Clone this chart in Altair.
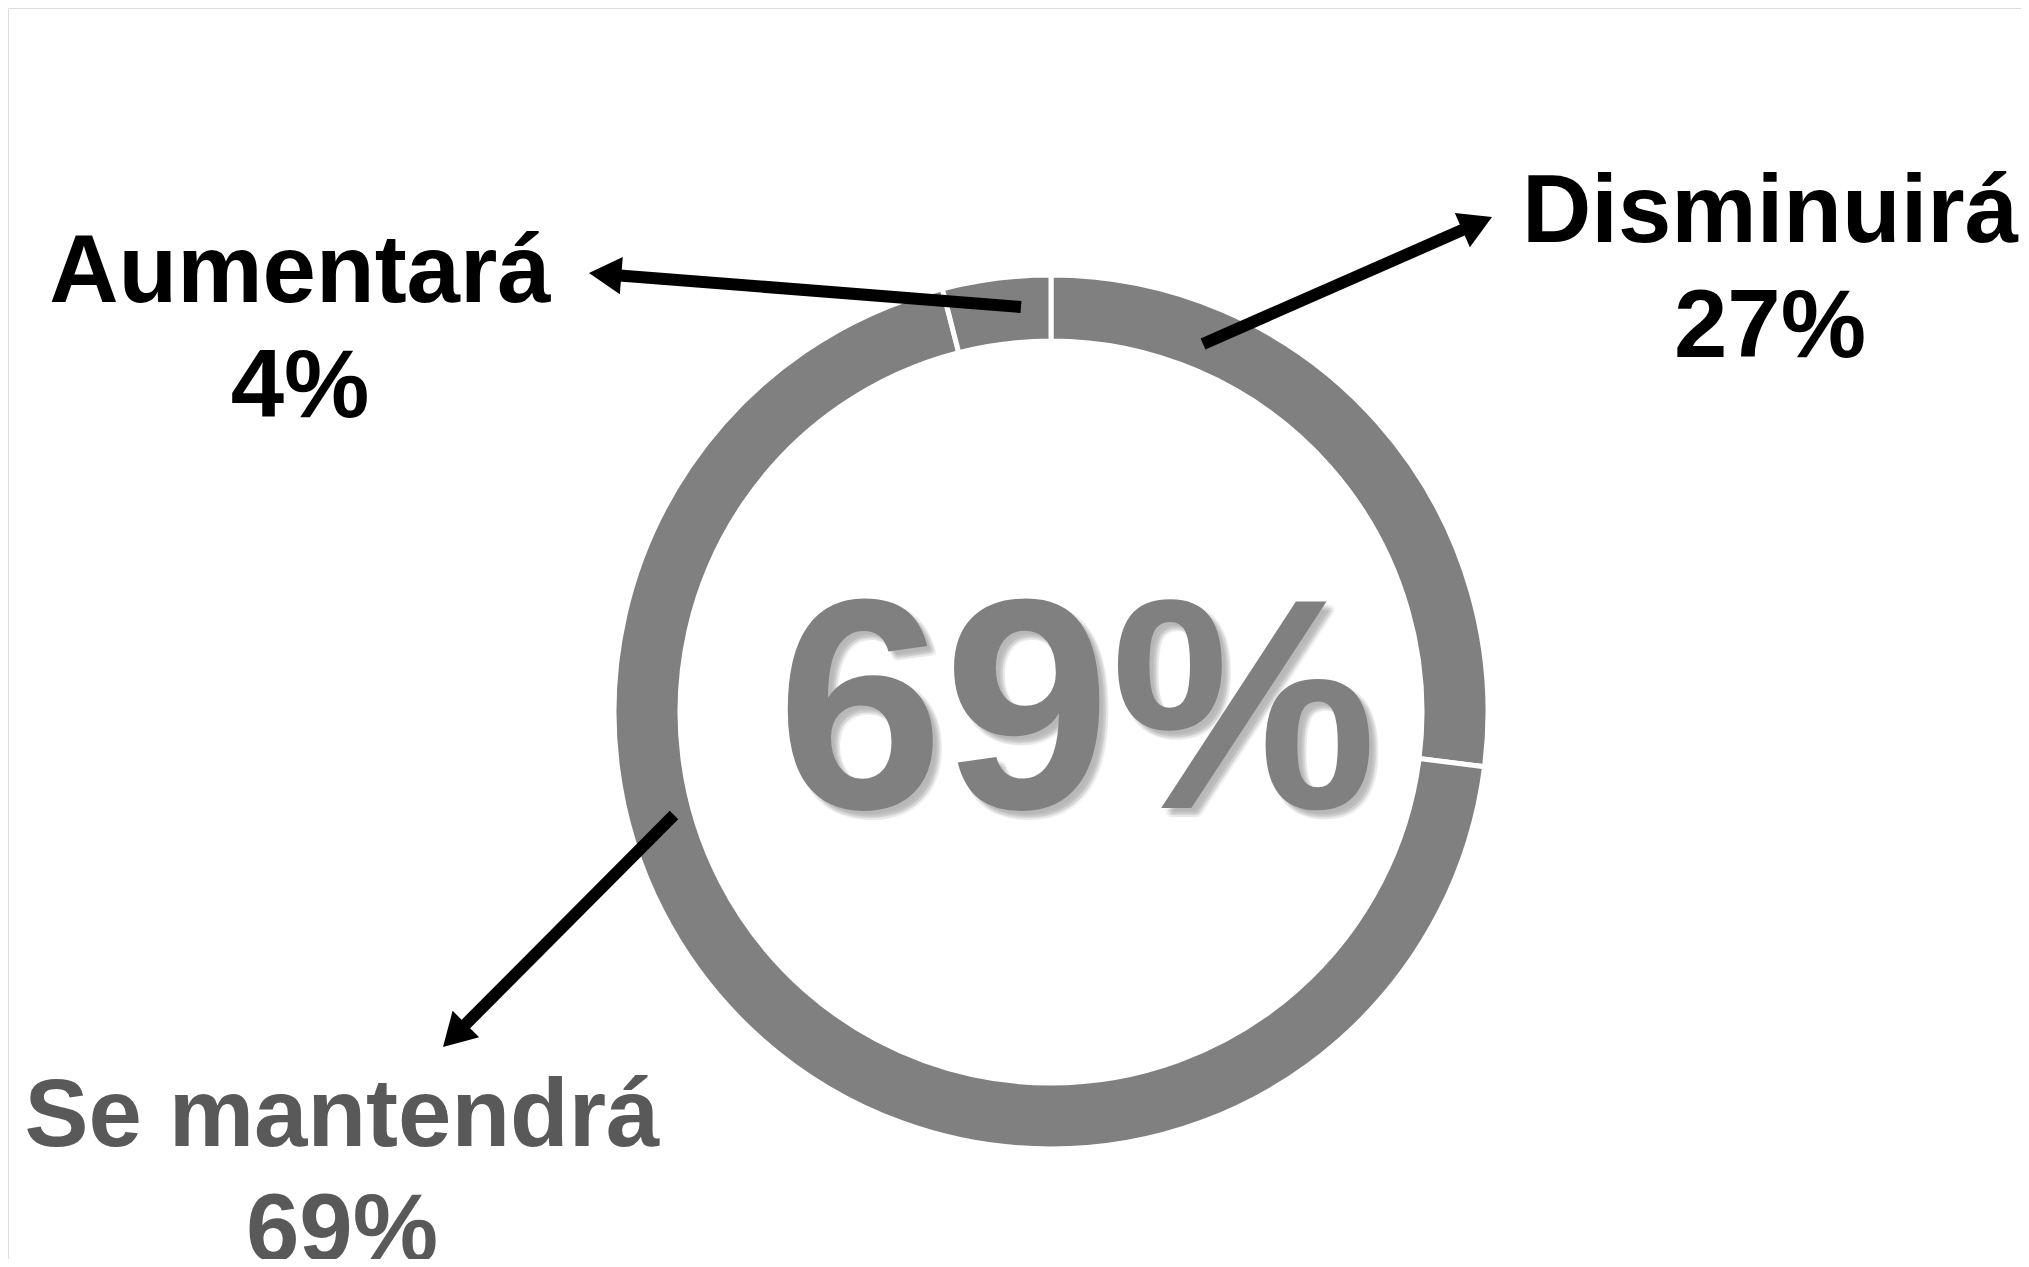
import math
import altair as alt
import pandas as pd

# ---- data ----
categories = ["Disminuirá", "Se mantendrá", "Aumentará"]
values = [27, 69, 4]
label_colors = ["#000000", "#595959", "#000000"]
center_label = "69%"

# ---- annotation geometry (full-page pixel coordinates) ----
W, H = 2013, 1251
ring_center = (1051, 712)
# label anchor: (x center, baseline of first line)
label_anchor = {"Disminuirá": (1770, 242), "Se mantendrá": (342, 1146), "Aumentará": (300, 302)}
line_gap = 115
# arrows: tail -> tip
arrow_tail = {"Disminuirá": (1203, 344), "Se mantendrá": (674, 815), "Aumentará": (1021, 307)}
arrow_tip = {"Disminuirá": (1492, 217), "Se mantendrá": (443, 1047), "Aumentará": (589, 273)}
head_size = 1400

xs = alt.Scale(domain=[8, 8 + W], nice=False, zero=False)
ys = alt.Scale(domain=[8, 8 + H], nice=False, zero=False, reverse=True)

# ring
ring_df = pd.DataFrame({
    "cat": categories, "val": values, "ord": list(range(len(values))),
    "cx": [ring_center[0]] * len(values), "cy": [ring_center[1]] * len(values),
})
ring = alt.Chart(ring_df).mark_arc(radius=437, radius2=371, color="#808080",
                                   stroke="white", strokeWidth=5).encode(
    theta=alt.Theta("val:Q", stack=True),
    order=alt.Order("ord:Q"),
    x=alt.X("cx:Q", scale=xs, axis=None),
    y=alt.Y("cy:Q", scale=ys, axis=None),
)

# arrows
rows = []
heads = []
L = 0.866 * math.sqrt(head_size)
for c in categories:
    sx, sy = arrow_tail[c]
    tx, ty = arrow_tip[c]
    d = math.hypot(tx - sx, ty - sy)
    ux, uy = (tx - sx) / d, (ty - sy) / d
    bx, by = tx - ux * L * 0.85, ty - uy * L * 0.85
    rows.append({"x": sx, "y": sy, "x2": bx, "y2": by})
    ang = math.degrees(math.atan2(ux, -uy)) % 360
    heads.append({"x": tx - ux * L / 2, "y": ty - uy * L / 2, "ang": ang})

shafts = alt.Chart(pd.DataFrame(rows)).mark_rule(color="black", strokeWidth=12, strokeCap="butt").encode(
    x=alt.X("x:Q", scale=xs, axis=None), y=alt.Y("y:Q", scale=ys, axis=None),
    x2="x2:Q", y2="y2:Q",
)
arrowheads = alt.Chart(pd.DataFrame(heads)).mark_point(
    shape="triangle-up", filled=True, size=head_size, color="black", opacity=1, strokeWidth=0
).encode(
    x=alt.X("x:Q", scale=xs, axis=None), y=alt.Y("y:Q", scale=ys, axis=None),
    angle=alt.Angle("ang:Q", scale=None),
)

# labels
lab = []
for c, v, col in zip(categories, values, label_colors):
    ax, ay = label_anchor[c]
    lab.append({"t": c, "x": ax, "y": ay, "col": col})
    lab.append({"t": f"{v}%", "x": ax, "y": ay + line_gap, "col": col})
labels = alt.Chart(pd.DataFrame(lab)).mark_text(
    font="Liberation Sans, Arial, sans-serif", fontWeight="bold", fontSize=96,
    align="center", baseline="alphabetic",
).encode(
    x=alt.X("x:Q", scale=xs, axis=None), y=alt.Y("y:Q", scale=ys, axis=None),
    text="t:N", color=alt.Color("col:N", scale=None),
)

# centre big number with soft (layered) shadow
cfont = "Liberation Sans, Arial, sans-serif"
cfs = 300
cdf = pd.DataFrame({"t": [center_label], "x": [1077], "y": [808]})
shadow_offsets = [(3, 3), (5, 5), (7, 7), (9, 9), (4, 7), (7, 4), (6, 9), (9, 6)]
shadow_layers = [
    alt.Chart(cdf).mark_text(
        font=cfont, fontWeight="bold", fontSize=cfs, align="center", baseline="alphabetic",
        color="#808080", opacity=0.09, dx=ox, dy=oy,
    ).encode(x=alt.X("x:Q", scale=xs, axis=None), y=alt.Y("y:Q", scale=ys, axis=None), text="t:N")
    for ox, oy in shadow_offsets
]
center = alt.Chart(cdf).mark_text(
    font=cfont, fontWeight="bold", fontSize=cfs, align="center", baseline="alphabetic",
    color="#808080",
).encode(x=alt.X("x:Q", scale=xs, axis=None), y=alt.Y("y:Q", scale=ys, axis=None), text="t:N")

chart = alt.layer(ring, *shadow_layers, center, shafts, arrowheads, labels).properties(
    width=W, height=H, padding=0,
    autosize=alt.AutoSizeParams(type="none"),
).configure_view(stroke=None, strokeWidth=0).configure(background="white")

chart.save("out.html", embed_options={"renderer": "svg", "actions": False})
